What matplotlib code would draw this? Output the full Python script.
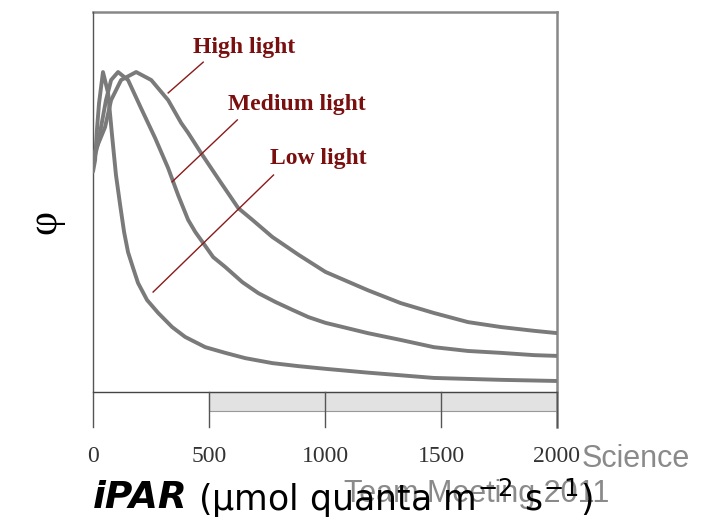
import numpy as np
import matplotlib.pyplot as plt
from matplotlib.patches import Rectangle

# curves (x in iPAR units, y as fraction of axis height)
low_x = [0, 9, 17, 26, 43, 65, 82, 99, 117, 134, 151, 173, 194, 233, 281, 341, 397,
         484, 570, 657, 773, 886, 1002, 1184, 1469, 1758, 2000]
low_y = [0.58, 0.61, 0.69, 0.76, 0.842, 0.787, 0.676, 0.571, 0.492, 0.421, 0.368, 0.326,
         0.287, 0.242, 0.208, 0.171, 0.145, 0.118, 0.103, 0.089, 0.076, 0.068, 0.061, 0.051,
         0.037, 0.032, 0.029]

med_x = [0, 22, 56, 78, 108, 151, 207, 268, 324, 367, 410, 441, 475, 518, 570, 644, 713, 786,
         860, 929, 1002, 1184, 1326, 1469, 1616, 1758, 1901, 2000]
med_y = [0.60, 0.655, 0.768, 0.821, 0.842, 0.821, 0.747, 0.668, 0.589, 0.518, 0.453, 0.421,
         0.392, 0.355, 0.329, 0.289, 0.26, 0.237, 0.216, 0.197, 0.182, 0.155, 0.137, 0.118,
         0.108, 0.103, 0.097, 0.095]

high_x = [0, 52, 78, 121, 186, 251, 324, 380, 410, 471, 549, 626, 687, 773, 886, 1002, 1184,
          1326, 1469, 1616, 1758, 1901, 2000]
high_y = [0.62, 0.697, 0.768, 0.821, 0.842, 0.821, 0.768, 0.708, 0.682, 0.624, 0.553, 0.484,
          0.453, 0.408, 0.361, 0.316, 0.268, 0.234, 0.208, 0.184, 0.171, 0.161, 0.155]

series_names = ["High light", "Medium light", "Low light"]
xticks = [0, 500, 1000, 1500, 2000]

W, H = 708, 522
fig = plt.figure(figsize=(W / 100, H / 100), dpi=100)

ax_l, ax_r, ax_t, ax_b = 93, 557, 12, 427
ax = fig.add_axes([ax_l / W, 1 - ax_b / H, (ax_r - ax_l) / W, (ax_b - ax_t) / H])
ymin = -(427 - 392) / 380
ax.set_xlim(0, 2000)
ax.set_ylim(ymin, 1.0)
for s in ax.spines.values():
    s.set_visible(False)
ax.set_yticks([])
ax.set_xticks(xticks)
ax.set_xticklabels([str(t) for t in xticks], family="Liberation Serif", fontsize=17, color="#333333")
ax.tick_params(axis="x", length=0, pad=14)

# frame and baseline
ax.plot([0, 2000], [1, 1], color="#888888", lw=1.8, clip_on=False)
ax.plot([2000, 2000], [ymin, 1], color="#888888", lw=1.8, clip_on=False)
ax.plot([0, 0], [ymin, 1], color="#555555", lw=1.0, clip_on=False)
ax.plot([0, 2000], [0, 0], color="#444444", lw=1.0, clip_on=False)

# grey strip under the axis
strip_h = (411 - 392) / 380
ax.add_patch(Rectangle((500, -strip_h), 1500, strip_h, facecolor="#e2e2e2", edgecolor="#999999", lw=0.8))
for t in xticks[1:]:
    ax.plot([t, t], [ymin, 0], color="#555555", lw=1.0, clip_on=False)

# curves
for xs, ys in [(low_x, low_y), (med_x, med_y), (high_x, high_y)]:
    ax.plot(xs, ys, color="#7a7a7a", lw=2.8, solid_capstyle="round", solid_joinstyle="round")

# labels with leader lines
red = "#8b1a1a"
leaders = [((324, 0.787), (475, 0.868)), ((341, 0.553), (622, 0.716)), ((259, 0.263), (778, 0.571))]
label_pos = [(432, 0.892), (583, 0.742), (765, 0.60)]
for name, (p0, p1), (tx, ty) in zip(series_names, leaders, label_pos):
    ax.plot([p0[0], p1[0]], [p0[1], p1[1]], color=red, lw=1.0)
    ax.text(tx, ty, name, family="Liberation Serif", fontweight="bold", fontsize=17,
            color="#7a0f0f", va="baseline", ha="left")

# y label
fig.text(45 / W, 1 - 222 / H, "φ", family="Liberation Serif", fontsize=30, rotation=90,
         ha="center", va="center")

# background slide text
fig.text(690 / W, 1 - 459 / H, "Science", family="Liberation Sans", fontsize=22,
         color="#8a8a8a", ha="right", va="center")
fig.text(477 / W, 1 - 494 / H, "Team Meeting 2011", family="Liberation Sans", fontsize=22,
         color="#8a8a8a", ha="center", va="center")

# x label
t1 = fig.text(93 / W, 1 - 498 / H, "iPAR", family="DejaVu Sans", fontweight="bold",
              style="italic", fontsize=27, va="center", ha="left")
fig.canvas.draw()
bb = t1.get_window_extent()
fig.text(bb.x1 / W + 0.014, 1 - 498 / H,
         r"(μmol quanta m$^{\mathregular{-2}}$ s$^{\mathregular{-1}}$)", family="DejaVu Sans",
         fontsize=25, va="center", ha="left")

fig.savefig("out.png", dpi=100)
